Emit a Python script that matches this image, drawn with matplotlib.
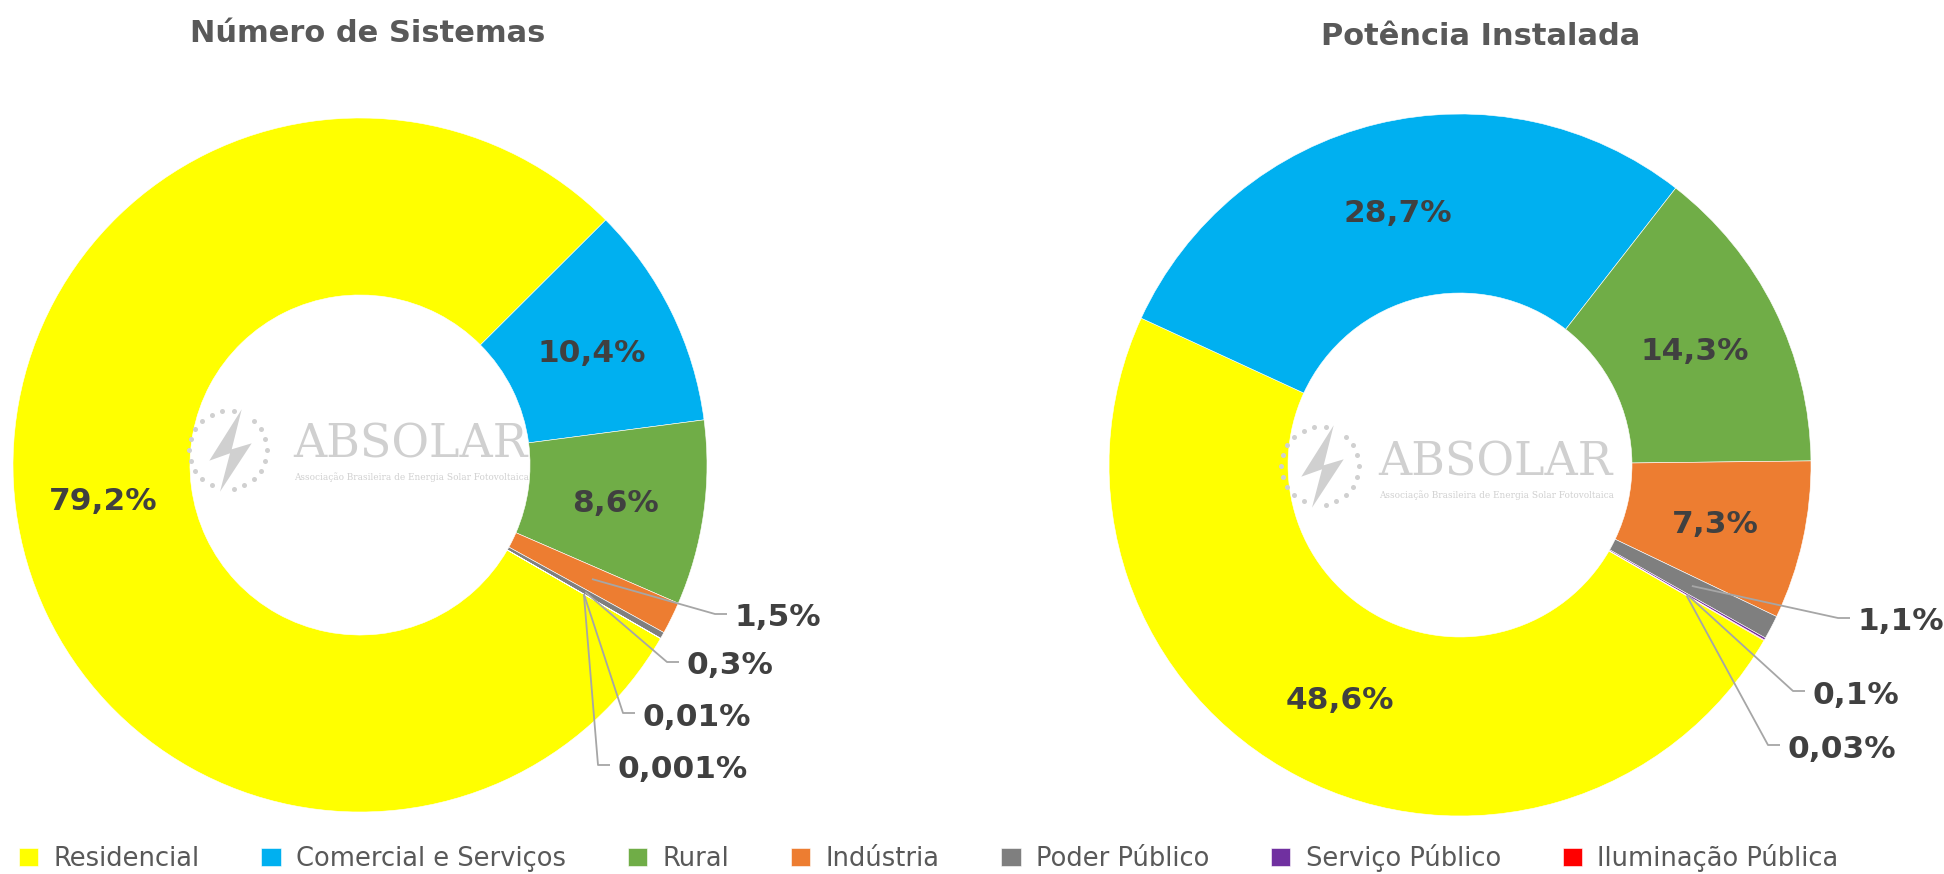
import numpy as np
import matplotlib
matplotlib.use("Agg")
import matplotlib.pyplot as plt

categorias = ['Residencial', 'Comercial e Serviços', 'Rural', 'Indústria',
              'Poder Público', 'Serviço Público', 'Iluminação Pública']
num_sistemas = [79.2, 10.4, 8.6, 1.5, 0.3, 0.01, 0.001]
potencia = [48.6, 28.7, 14.3, 7.3, 1.1, 0.1, 0.03]
titulos = ['Número de Sistemas', 'Potência Instalada']
cores = ['#FFFF00', '#00B0F0', '#70AD47', '#ED7D31', '#7F7F7F', '#7030A0', '#FF0000']

# layout (figure pixels, y measured from the top)
W, H = 1944, 874
centros = [(360, 465), (1460, 465)]
raios = [347, 351]
# where the leader lines bend for the small slices (x, y of the elbow)
cotovelos = [
    {3: (715, 614), 4: (667, 662), 5: (623, 713), 6: (598, 765)},
    {4: (1838, 618), 5: (1793, 691), 6: (1768, 745)},
]
titulo_pos = [(368, 42), (1481, 45)]      # centre x, baseline y
logo_pos = [(228, 450, 293, 458), (1320, 466, 1378, 476)]  # circle x,y ; text x, baseline

cinza_txt = '#404040'
cinza_tit = '#595959'
linha = '#A6A6A6'
marca = '#D0D0D0'

# lightning bolt outline of the watermark, relative to the dotted circle
raio_x = np.array([13.7, -18.7, 2.0, -8.0, 23.7, 3.7])
raio_y = -np.array([-40.7, 10.7, 3.3, 41.7, -6.7, -0.7])


def fmt(v):
    return str(v).replace('.', ',') + '%'


fig = plt.figure(figsize=(W / 100, H / 100), dpi=100)
ax = fig.add_axes([0, 0, 1, 1])

handles = None
for k, vals in enumerate([num_sistemas, potencia]):
    cx, cy = centros[k][0], H - centros[k][1]
    R = raios[k]
    largura = 0.51 * R
    wedges, _ = ax.pie(vals, colors=cores, startangle=-30, counterclock=False,
                       radius=R, center=(cx, cy),
                       wedgeprops=dict(width=largura, edgecolor='white', linewidth=0.4))
    if handles is None:
        handles = wedges
    rmid = R - largura / 2
    for i, (w, v) in enumerate(zip(wedges, vals)):
        ang = np.deg2rad((w.theta1 + w.theta2) / 2)
        px, py = cx + rmid * np.cos(ang), cy + rmid * np.sin(ang)
        if i in cotovelos[k]:
            ex, ey = cotovelos[k][i]
            ey = H - ey
            ax.plot([px, ex, ex + 12], [py, ey, ey], color=linha, lw=1.3,
                    solid_capstyle='butt')
            ax.text(ex + 19, ey - 4, fmt(v), ha='left', va='center', fontsize=22.5,
                    fontweight='bold', color=cinza_txt)
        else:
            ax.text(px, py - 3, fmt(v), ha='center', va='center', fontsize=22.5,
                    fontweight='bold', color=cinza_txt)

    # ABSOLAR watermark
    lx, ly, tx, tb = logo_pos[k]
    ly, tb = H - ly, H - tb
    t = np.linspace(0, 2 * np.pi, 22, endpoint=False)
    keep = [j for j in range(22) if j not in (4, 16)]
    ax.scatter(lx + 39 * np.cos(t[keep]), ly + 39 * np.sin(t[keep]), s=13,
               color=marca, zorder=3, linewidths=0)
    ax.fill(lx + raio_x, ly + raio_y, color=marca, lw=0, zorder=3)
    ax.text(tx, tb, 'ABSOLAR', fontsize=33, color=marca,
            family='DejaVu Serif', ha='left', va='baseline', zorder=3)
    ax.text(tx + 1, tb - 19, 'Associação Brasileira de Energia Solar Fotovoltaica',
            fontsize=6.4, color=marca, family='DejaVu Serif', ha='left',
            va='center', zorder=3)

    tx, ty = titulo_pos[k]
    ax.text(tx, H - ty, titulos[k], ha='center', va='baseline', fontsize=22,
            fontweight='bold', color=cinza_tit)

ax.set_xlim(0, W)
ax.set_ylim(0, H)
ax.set_aspect('equal')
ax.axis('off')

fig.legend(handles, categorias, loc='center left', bbox_to_anchor=(19 / W, 16 / H),
           ncol=7, frameon=False, borderpad=0, borderaxespad=0,
           handlelength=0.75, handleheight=0.75, handletextpad=0.6,
           columnspacing=2.4, prop=dict(size=18.5), labelcolor=cinza_tit)

fig.savefig('out.png', dpi=100, facecolor='white')
